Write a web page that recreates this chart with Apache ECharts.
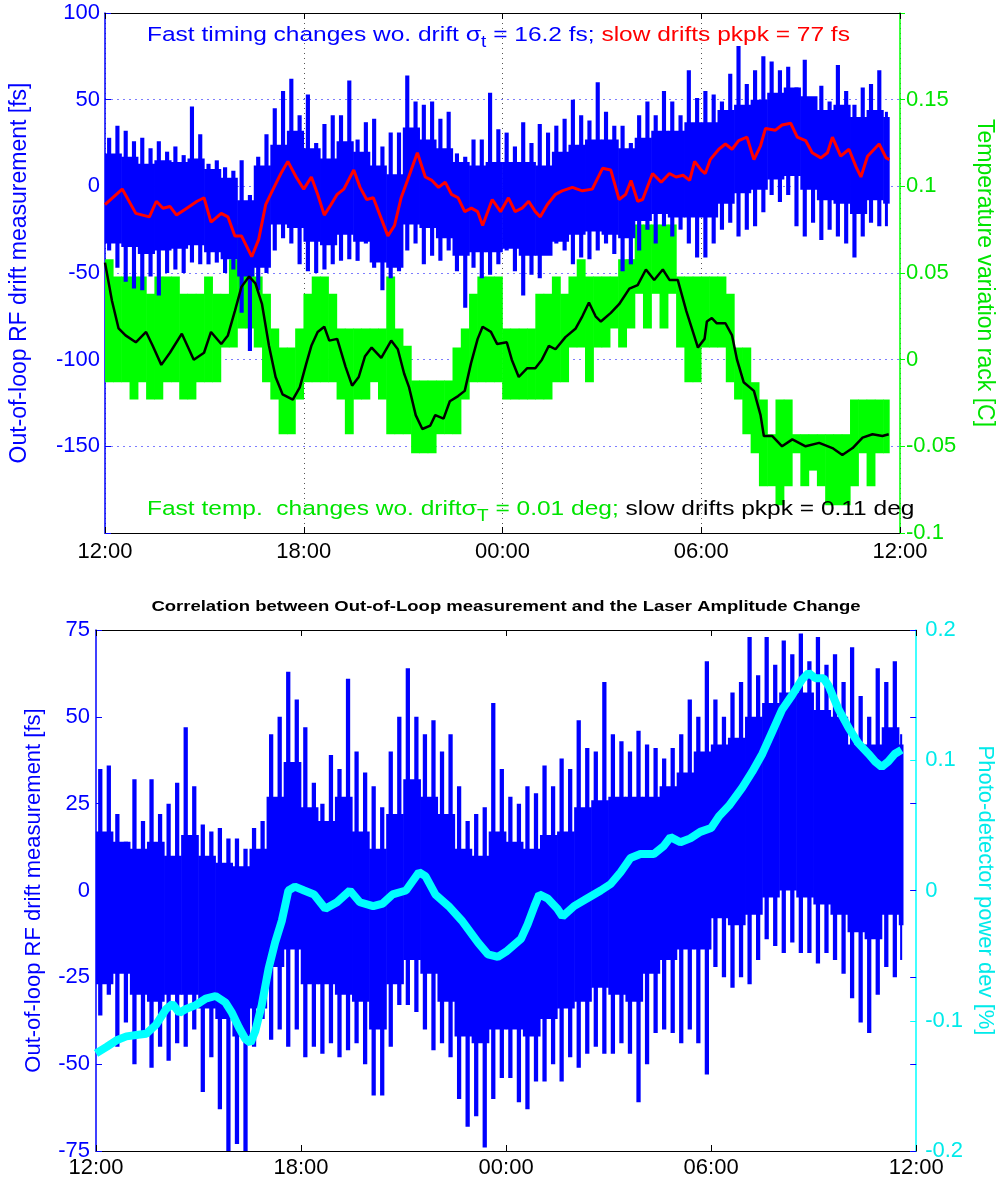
<!DOCTYPE html>
<html><head><meta charset="utf-8">
<script src="https://cdn.jsdelivr.net/npm/echarts@6/dist/echarts.min.js"></script>
<style>html,body{margin:0;padding:0;background:#fff}#c{width:1004px;height:1179px}</style>
</head><body><div id="c"></div>
<script>
// ---------------- data ----------------
const xTickLabels = ['12:00', '18:00', '00:00', '06:00', '12:00'];
const topEndHour = 23.68;   // last sample of the upper record (hours after 12:00)
const botEndHour = 23.62;   // last sample of the lower record

// Upper chart: blue timing scatter, 15-min bins (extremes) [fs]
const topSpikeHi = [28,35,32,26,28,22,26,20,23,18,46,30,13,15,11,9,15,-5,17,30,45,55,62,41,
  53,25,36,41,41,61,27,37,39,23,31,31,64,49,47,49,39,43,19,17,27,27,54,33,
  31,23,37,25,36,31,35,39,50,41,38,60,43,35,35,25,41,49,41,55,49,41,67,51,
  55,53,49,65,81,59,67,75,72,67,69,57,73,49,58,49,70,55,47,57,59,67,43];
const topSpikeLo = [-37,-47,-55,-59,-60,-52,-63,-50,-48,-50,-44,-45,-45,-44,-50,-48,-73,-95,-60,-50,-37,-30,-33,-45,
  -49,-50,-48,-45,-43,-42,-43,-33,-47,-60,-53,-49,-37,-33,-45,-40,-43,-37,-49,-70,-47,-53,-51,-45,
  -37,-49,-63,-51,-53,-37,-33,-37,-45,-41,-42,-37,-33,-39,-49,-45,-37,-25,-33,-23,-29,-25,-33,-41,
  -41,-33,-25,-21,-29,-25,-23,-15,-5,-9,-5,-23,-29,-21,-31,-25,-29,-33,-41,-29,-21,-23,-23];
// Upper chart: dense core of the blue scatter, 30-min bins [fs]
const topCoreHi = [19,17,13,15,14,16,10,5,-8,12,24,32,
  22,16,26,20,12,7,34,27,22,14,12,14,
  14,14,12,20,24,27,27,22,28,32,32,37,
  37,44,47,50,54,57,52,44,47,40,44,40];
const topCoreLo = [-33,-35,-39,-37,-36,-34,-38,-42,-52,-47,-22,-24,
  -32,-34,-28,-32,-44,-47,-22,-24,-30,-40,-38,-38,
  -36,-40,-40,-32,-28,-26,-28,-30,-20,-16,-18,-18,
  -18,-10,-4,-2,4,6,-2,-8,-10,-16,-8,-10];
// Upper chart: slow drift (red) [hour, fs]
const topDrift = [[0,-10.6],[0.52,-1.6],[0.93,-15.6],[1.34,-17.6],[1.55,-8.6],[1.75,-12.6],[1.96,-11.6],[2.16,-16.6],
  [2.47,-12.6],[2.78,-8.6],[2.99,-6.6],[3.2,-20.6],[3.51,-15.6],[3.71,-17.6],[3.92,-28.6],[4.12,-28.6],[4.43,-40.6],
  [4.64,-30.6],[4.85,-10.6],[5.05,-2.6],[5.31,7.4],[5.52,14.4],[5.77,5.4],[6.0,-1.6],
  [6.23,5.4],[6.42,-4.6],[6.62,-16.6],[6.82,-10.6],[7.01,-4.6],[7.21,-1.6],[7.51,9.4],[7.7,-0.6],[7.9,-7.6],
  [8.1,-6.6],[8.3,-16.6],[8.54,-28.6],[8.74,-22.6],[8.94,-6.6],[9.13,3.4],[9.43,19.4],[9.67,5.4],[9.87,3.4],
  [10.07,-0.6],[10.27,2.4],[10.46,-4.6],[10.66,-6.6],[10.86,-14.6],[11.06,-12.6],[11.25,-14.6],[11.4,-22.6],
  [11.69,-7.6],[11.94,-14.6],
  [12.18,-6.6],[12.38,-14.6],[12.59,-12.6],[12.79,-8.6],[12.99,-14.6],[13.14,-17.6],[13.35,-10.6],[13.6,-4.6],
  [13.8,-2.6],[14.11,-0.6],[14.41,-2.6],[14.71,-1.6],[15.02,10.4],[15.27,9.4],[15.52,-7.6],[15.72,-4.6],[15.88,3.4],
  [16.08,-8.6],[16.23,-7.6],[16.53,7.4],[16.79,2.4],[17.04,7.4],[17.24,5.4],[17.45,6.4],[17.65,3.4],[17.8,14.4],[18.0,9.4],
  [18.12,7.4],[18.27,15.4],[18.53,21.4],[18.73,24.4],[18.93,21.4],[19.13,26.4],[19.38,28.4],[19.59,15.4],[19.79,23.4],
  [19.94,33.4],[20.24,32.4],[20.44,35.4],[20.7,36.4],[20.9,28.4],[21.15,26.4],[21.35,19.4],[21.61,16.4],[21.81,19.4],
  [21.96,28.4],[22.21,17.4],[22.46,21.4],[22.67,11.4],[22.82,5.4],[23.02,17.4],[23.22,21.4],[23.37,24.4],[23.58,16.4],[23.68,15.4]];
// Upper chart: rack temperature band (green), 15-min bins [C]
const tempHi = [0.058,0.048,0.048,0.048,0.048,0.038,0.048,0.048,0.048,0.038,0.038,0.038,0.048,0.038,0.038,0.058,0.078,0.078,0.048,0.038,0.018,0.007,0.007,0.018,
  0.038,0.048,0.048,0.038,0.018,0.018,0.018,0.018,0.018,0.018,0.048,0.018,0.008,-0.012,-0.012,-0.012,-0.012,-0.012,0.007,0.018,0.038,0.048,0.048,0.048,
  0.018,0.018,0.018,0.018,0.038,0.038,0.048,0.038,0.048,0.058,0.048,0.048,0.048,0.048,0.058,0.058,0.078,0.078,0.078,0.078,0.078,0.048,0.048,0.048,
  0.048,0.048,0.048,0.038,0.007,0.007,-0.013,-0.023,-0.043,-0.023,-0.023,-0.043,-0.043,-0.043,-0.043,-0.043,-0.043,-0.043,-0.023,-0.023,-0.023,-0.023,-0.023];
const tempLo = [-0.013,-0.013,-0.013,-0.023,-0.013,-0.023,-0.023,-0.013,-0.013,-0.023,-0.023,-0.013,-0.013,-0.013,0.007,0.007,0.018,0.018,0.007,-0.013,-0.023,-0.043,-0.043,-0.023,
  -0.013,-0.013,-0.013,-0.013,-0.023,-0.043,-0.023,-0.023,-0.013,-0.023,-0.043,-0.043,-0.043,-0.054,-0.054,-0.054,-0.043,-0.043,-0.043,-0.023,-0.013,-0.013,-0.013,-0.013,
  -0.023,-0.023,-0.023,-0.023,-0.023,-0.023,-0.013,-0.013,0.007,0.007,-0.013,0.007,0.007,0.018,0.007,0.018,0.038,0.018,0.038,0.018,0.038,0.007,-0.013,-0.013,
  0.007,0.007,0.007,-0.013,-0.023,-0.043,-0.054,-0.073,-0.073,-0.084,-0.073,-0.054,-0.073,-0.064,-0.073,-0.084,-0.084,-0.084,-0.073,-0.054,-0.073,-0.054,-0.054];
// Upper chart: slow temperature drift (black) [hour, C]
const tempDrift = [[0,0.056],[0.21,0.034],[0.41,0.018],[0.62,0.014],[0.93,0.01],[1.24,0.016],[1.44,0.008],[1.7,-0.003],
  [1.96,0.004],[2.32,0.015],[2.68,0],[2.99,0.004],[3.2,0.016],[3.51,0.009],[3.71,0.014],[3.92,0.028],[4.12,0.042],
  [4.35,0.048],[4.54,0.044],[4.74,0.032],[4.95,0.008],[5.15,-0.01],[5.36,-0.02],[5.67,-0.023],[5.88,-0.016],[6.08,-0.002],
  [6.23,0.008],[6.42,0.016],[6.62,0.019],[6.77,0.011],[7.01,0.012],[7.26,-0.004],[7.46,-0.015],[7.66,-0.01],[7.85,0.002],
  [8.05,0.007],[8.34,0.001],[8.64,0.011],[8.84,0.006],[9.03,-0.008],[9.18,-0.016],[9.38,-0.032],[9.58,-0.04],[9.82,-0.038],
  [9.97,-0.032],[10.22,-0.034],[10.41,-0.024],[10.66,-0.021],[10.86,-0.018],[11.05,-0.002],[11.25,0.012],[11.4,0.019],
  [11.65,0.016],[11.84,0.009],
  [12.13,0.01],[12.28,0],[12.49,-0.01],[12.74,-0.005],[12.99,-0.005],[13.19,0],[13.4,0.008],[13.6,0.006],[13.9,0.013],
  [14.21,0.018],[14.41,0.025],[14.61,0.033],[14.81,0.025],[14.97,0.022],[15.27,0.027],[15.52,0.032],[15.83,0.041],
  [16.08,0.043],[16.33,0.052],[16.58,0.046],[16.84,0.052],[17.04,0.046],[17.29,0.046],[17.55,0.028],[17.75,0.016],
  [17.9,0.007],[18.1,0.012],[18.17,0.022],[18.32,0.024],[18.47,0.021],[18.73,0.021],[18.93,0.014],[19.08,0],[19.28,-0.013],
  [19.59,-0.018],[19.79,-0.032],[19.89,-0.044],[20.14,-0.044],[20.44,-0.05],[20.75,-0.046],[21.15,-0.05],[21.56,-0.048],
  [21.96,-0.051],[22.26,-0.055],[22.57,-0.051],[22.87,-0.045],[23.17,-0.043],[23.47,-0.044],[23.66,-0.043]];

// Lower chart: blue timing scatter, 15-min bins (extremes) [fs]
const botSpikeHi = [35,36,22,14,32,20,32,22,25,31,47,30,19,17,18,15,15,12,18,20,45,50,63,55,
  47,31,25,39,35,61,40,34,30,24,40,50,64,50,45,49,40,45,30,20,22,24,54,35,
  27,25,30,28,36,30,38,35,49,41,40,60,45,43,40,46,42,41,38,41,45,55,50,66,
  55,50,57,60,73,62,73,65,72,68,74,66,73,65,68,60,70,56,50,64,60,66,45];
const botSpikeLo = [-36,-30,-45,-38,-50,-42,-51,-45,-49,-44,-45,-40,-58,-48,-63,-75,-73,-75,-45,-37,-43,-40,-45,-40,
  -48,-45,-47,-44,-48,-46,-44,-50,-59,-59,-45,-33,-33,-35,-40,-46,-44,-48,-60,-68,-65,-74,-60,-54,
  -54,-61,-63,-55,-55,-50,-55,-48,-51,-47,-45,-47,-47,-44,-47,-61,-50,-41,-40,-41,-44,-40,-44,-53,
  -22,-25,-28,-25,-27,-20,-14,-16,-18,-15,-18,-18,-21,-18,-20,-24,-31,-38,-41,-30,-22,-25,-20];
// Lower chart: dense core, 30-min bins [fs]
const botCoreHi = [17,14,12,14,10,16,10,8,7,12,27,37,
  24,20,27,17,12,22,32,27,22,12,10,17,
  14,12,16,17,24,26,27,27,27,30,34,40,
  42,44,50,54,57,57,52,50,42,42,47,42];
const botCoreLo = [-27,-24,-30,-32,-30,-30,-34,-37,-42,-34,-22,-17,
  -27,-27,-30,-32,-40,-27,-20,-24,-32,-42,-44,-40,
  -40,-42,-37,-34,-32,-28,-30,-32,-24,-20,-17,-17,
  -8,-10,-7,-2,0,-2,-4,-7,-12,-14,-7,-10];
// Lower chart: photo-detector power deviation (cyan) [hour, %]
const powerDev = [[0,-0.125],[0.31,-0.12],[0.6,-0.115],[0.89,-0.112],[1.18,-0.111],[1.47,-0.11],[1.76,-0.103],[2.05,-0.091],
  [2.24,-0.087],[2.44,-0.094],[2.63,-0.091],[2.92,-0.088],[3.21,-0.083],[3.5,-0.081],[3.79,-0.086],[3.98,-0.094],
  [4.18,-0.105],[4.37,-0.114],[4.52,-0.117],[4.66,-0.108],[4.85,-0.088],[5.05,-0.06],[5.24,-0.04],[5.44,-0.023],
  [5.63,0],[5.82,0.003],[6.09,0],[6.38,-0.003],[6.71,-0.014],[7.05,-0.009],[7.43,0],[7.72,-0.009],[8.11,-0.012],
  [8.39,-0.01],[8.68,-0.003],[9.07,0],[9.45,0.014],[9.64,0.011],[9.93,-0.003],[10.32,-0.012],[10.7,-0.023],
  [11.18,-0.04],[11.47,-0.049],[11.76,-0.051],[12.0,-0.047],[12.44,-0.037],[12.63,-0.026],[12.83,-0.012],[12.97,-0.003],
  [13.21,-0.006],[13.5,-0.014],[13.65,-0.02],[13.99,-0.012],[14.38,-0.006],[14.77,0],[15.06,0.005],[15.35,0.014],
  [15.64,0.025],[15.93,0.028],[16.32,0.028],[16.61,0.034],[16.81,0.041],[17.1,0.037],[17.39,0.04],[17.68,0.045],
  [18.0,0.048],[18.23,0.057],[18.52,0.065],[18.91,0.079],[19.2,0.091],[19.5,0.105],[19.79,0.122],[20.08,0.139],
  [20.37,0.15],[20.66,0.162],[20.85,0.167],[21.05,0.163],[21.29,0.163],[21.44,0.157],[21.73,0.139],[22.02,0.125],
  [22.31,0.113],[22.6,0.105],[22.8,0.099],[22.99,0.095],[23.18,0.099],[23.38,0.105],[23.57,0.108]];

// ---------------- chart ----------------
const BLUE = '#0000ff', GREEN = '#00ff00', GREEN_TXT = '#00e400', CYAN = '#00ffff', CYAN_TXT = '#00eaea';
const FONT = '"Liberation Sans", Arial, sans-serif';
const TICK_FS = 22;
const binStarts = (n, w) => Array.from({length: n}, (_, i) => i * w);

function band(xIdx, yIdx, width, hi, lo, endH, color, frac, z) {
  const starts = binStarts(hi.length, width);
  const data = starts.map((s, i) => [s, Math.min(s + width, endH), hi[i], lo[i]]);
  return {
    type: 'custom', xAxisIndex: xIdx, yAxisIndex: yIdx, z: z, silent: true, clip: true,
    encode: {x: [0, 1], y: [2, 3]}, data: data,
    renderItem: function (params, api) {
      const p0 = api.coord([api.value(0), api.value(2)]);
      const p1 = api.coord([api.value(1), api.value(3)]);
      const w = p1[0] - p0[0];
      const ww = w * frac + (frac >= 1 ? 0.6 : 0);
      const cx = p0[0] + w / 2;
      return {type: 'rect', shape: {x: cx - ww / 2, y: p0[1], width: ww, height: p1[1] - p0[1]},
        style: {fill: color}};
    }
  };
}

function xAxes(grid, split, margin) {
  return [
    {gridIndex: grid, type: 'value', min: 0, max: 24, interval: 6, position: 'bottom',
      axisLine: {onZero: false, lineStyle: {color: '#000', width: 1}},
      axisTick: {inside: true, length: 6, lineStyle: {color: '#000'}},
      axisLabel: {color: '#000', fontSize: TICK_FS, fontFamily: FONT, margin: margin,
        formatter: v => xTickLabels[Math.round(v / 6)]},
      splitLine: {show: split, lineStyle: {color: '#555', type: [1, 4], width: 1}}},
    {gridIndex: grid, type: 'value', min: 0, max: 24, interval: 6, position: 'top',
      axisLine: {onZero: false, lineStyle: {color: '#000', width: 1}},
      axisTick: {inside: true, length: 6, lineStyle: {color: '#000'}},
      axisLabel: {show: false}, splitLine: {show: false}}
  ];
}

const chart = echarts.init(document.getElementById('c'), null, {renderer: 'canvas'});
chart.setOption({
  animation: false,
  backgroundColor: '#fff',
  grid: [
    {left: 105, top: 13, width: 796, height: 520},
    {left: 96, top: 630, width: 826, height: 522}
  ],
  xAxis: [...xAxes(0, true, 8), ...xAxes(1, false, 6)],
  yAxis: [
    {gridIndex: 0, type: 'value', position: 'left', min: -200, max: 100, interval: 50,
      axisLine: {show: true, onZero: false, lineStyle: {color: BLUE, width: 1.5}},
      axisTick: {show: true, inside: true, length: 6, lineStyle: {color: BLUE}},
      axisLabel: {color: BLUE, fontSize: TICK_FS, fontFamily: FONT, margin: 5,
        formatter: v => (v <= -200 ? '' : String(v))},
      splitLine: {show: true, lineStyle: {color: '#7c7cff', type: [2, 4], width: 1}},
      name: 'Out-of-loop RF drift measurement [fs]', nameLocation: 'middle', nameGap: 74, nameRotate: 90,
      nameTextStyle: {color: BLUE, fontSize: 23, fontFamily: FONT}},
    {gridIndex: 0, type: 'value', position: 'right', min: -0.1, max: 0.2, interval: 0.05,
      axisLine: {show: true, onZero: false, lineStyle: {color: GREEN, width: 1.5}},
      axisTick: {show: true, inside: false, length: 5, lineStyle: {color: GREEN}},
      axisLabel: {color: GREEN_TXT, fontSize: TICK_FS, fontFamily: FONT, margin: 6,
        formatter: v => { const r = Math.round(v * 100) / 100; return r >= 0.2 ? '' : String(r); }},
      splitLine: {show: false},
      name: 'Temperature variation rack [C]', nameLocation: 'middle', nameGap: 73, nameRotate: -90,
      nameTextStyle: {color: GREEN_TXT, fontSize: 23, fontFamily: FONT}},
    {gridIndex: 1, type: 'value', position: 'left', min: -75, max: 75, interval: 25,
      axisLine: {show: true, onZero: false, lineStyle: {color: BLUE, width: 1.5}},
      axisTick: {show: true, inside: true, length: 6, lineStyle: {color: BLUE}},
      axisLabel: {color: BLUE, fontSize: TICK_FS, fontFamily: FONT, margin: 6},
      splitLine: {show: false},
      name: 'Out-of-loop RF drift measurement [fs]', nameLocation: 'middle', nameGap: 51, nameRotate: 90,
      nameTextStyle: {color: BLUE, fontSize: 22, fontFamily: FONT}},
    {gridIndex: 1, type: 'value', position: 'right', min: -0.2, max: 0.2, interval: 0.1,
      axisLine: {show: true, onZero: false, lineStyle: {color: CYAN, width: 1.5}},
      axisTick: {show: true, inside: true, length: 6, lineStyle: {color: CYAN}},
      axisLabel: {color: CYAN_TXT, fontSize: TICK_FS, fontFamily: FONT, margin: 9,
        formatter: v => String(Math.round(v * 10) / 10)},
      splitLine: {show: false},
      name: 'Photo-detector power dev [%]', nameLocation: 'middle', nameGap: 53, nameRotate: -90,
      nameTextStyle: {color: CYAN_TXT, fontSize: 22, fontFamily: FONT}},
    {gridIndex: 1, type: 'value', position: 'right', min: -75, max: 75, interval: 25,
      axisLine: {show: false, onZero: false},
      axisTick: {show: true, inside: true, length: 6, lineStyle: {color: BLUE}},
      axisLabel: {show: false}, splitLine: {show: false}}
  ],
  series: [
    band(0, 1, 0.25, tempHi, tempLo, topEndHour, GREEN, 1, 1),
    band(0, 0, 0.25, topSpikeHi, topSpikeLo, topEndHour, BLUE, 0.5, 2),
    band(0, 0, 0.5, topCoreHi, topCoreLo, topEndHour, BLUE, 1, 2),
    {type: 'line', xAxisIndex: 0, yAxisIndex: 0, data: topDrift, showSymbol: false, z: 3,
      lineStyle: {color: '#ff0000', width: 3}},
    {type: 'line', xAxisIndex: 0, yAxisIndex: 1, data: tempDrift, showSymbol: false, z: 4,
      lineStyle: {color: '#000', width: 2.5}},
    band(2, 2, 0.25, botSpikeHi, botSpikeLo, botEndHour, BLUE, 0.5, 2),
    band(2, 2, 0.5, botCoreHi, botCoreLo, botEndHour, BLUE, 1, 2),
    {type: 'line', xAxisIndex: 2, yAxisIndex: 3, data: powerDev, showSymbol: false, z: 3,
      lineStyle: {color: CYAN, width: 8}}
  ],
  graphic: [
    {type: 'text', x: 506, y: 607, scaleY: 0.82, z: 100, style: {
      text: 'Correlation between Out-of-Loop measurement and the Laser Amplitude Change',
      fill: '#000', fontSize: 18.5, fontWeight: 'bold', fontFamily: FONT, align: 'center', verticalAlign: 'middle'}},
    {type: 'text', x: 147, y: 35, scaleY: 0.82, z: 100, style: {
      text: '{b|Fast timing changes wo. drift }{s|σ}{sub|t}{b| = 16.2 fs; }{r|slow drifts pkpk = 77 fs}',
      verticalAlign: 'middle',
      rich: {
        b: {fill: BLUE, fontSize: 24.5, fontFamily: FONT, lineHeight: 30},
        s: {fill: BLUE, fontSize: 25, fontFamily: FONT, lineHeight: 30},
        sub: {fill: BLUE, fontSize: 19, fontFamily: FONT, lineHeight: 30, padding: [18, 0, 0, 0]},
        r: {fill: '#ff0000', fontSize: 24.5, fontFamily: FONT, lineHeight: 30}
      }}},
    {type: 'text', x: 147, y: 509, scaleY: 0.82, z: 100, style: {
      text: '{g|Fast temp.  changes wo. drift}{s|σ}{sub|T}{g| = 0.01 deg; }{k|slow drifts pkpk = 0.11 deg}',
      verticalAlign: 'middle',
      rich: {
        g: {fill: GREEN_TXT, fontSize: 24.5, fontFamily: FONT, lineHeight: 30},
        s: {fill: GREEN_TXT, fontSize: 25, fontFamily: FONT, lineHeight: 30},
        sub: {fill: GREEN_TXT, fontSize: 19, fontFamily: FONT, lineHeight: 30, padding: [18, 0, 0, 0]},
        k: {fill: '#000', fontSize: 24.5, fontFamily: FONT, lineHeight: 30}
      }}}
  ]
});
</script>
</body></html>
